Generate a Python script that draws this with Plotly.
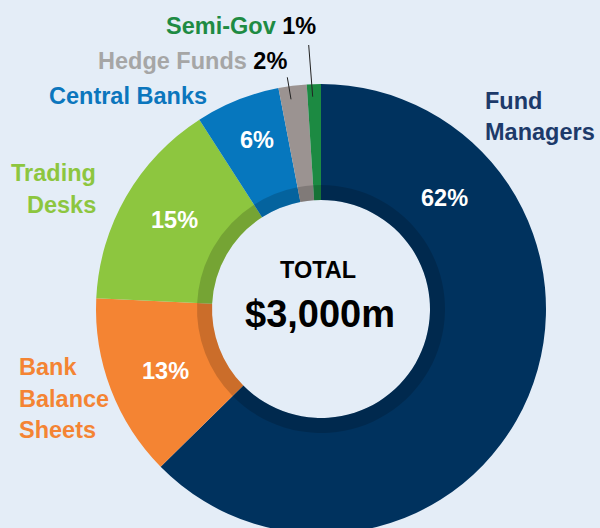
import plotly.graph_objects as go

# Investor breakdown, clockwise from 12 o'clock
labels   = ["Fund Managers", "Bank Balance Sheets", "Trading Desks",
            "Central Banks", "Hedge Funds", "Semi-Gov"]
shares   = [62, 13, 15, 6, 2, 1]
colors   = ["#00325E", "#F48433", "#8DC63F", "#0677BE", "#9B9391", "#1C8A42"]
txt_cols = ["#1D3A6A", "#F48433", "#8DC63F", "#0B76BD", "#A6A6A6", "#1E8B43"]
total_label = "TOTAL"
total_value = "$3,000m"

W, H = 600, 540            # a bit taller than the window; bottom of donut runs off
BG = "#E4EDF7"
FONT = "Liberation Sans, Arial, sans-serif"

CX, CY = 321, 309          # donut centre in px (from top-left)
R_OUT, R_RING, R_HOLE = 225, 124, 109


def dom(r):
    return dict(x=[(CX - r) / W, (CX + r) / W],
                y=[(H - CY - r) / H, (H - CY + r) / H])


def px(x, y):
    return x / W, 1 - y / H


fig = go.Figure()
fig.add_trace(go.Pie(
    labels=labels, values=shares, sort=False, direction="clockwise", rotation=0,
    hole=R_HOLE / R_OUT, domain=dom(R_OUT),
    marker=dict(colors=colors, line=dict(width=0)),
    textinfo="none", hoverinfo="label+percent", showlegend=False,
))
# darker inner ring
fig.add_trace(go.Pie(
    labels=labels, values=shares, sort=False, direction="clockwise", rotation=0,
    hole=R_HOLE / R_RING, domain=dom(R_RING),
    marker=dict(colors=["rgba(0,0,0,0.17)"] * len(shares), line=dict(width=0)),
    textinfo="none", hoverinfo="skip", showlegend=False,
))

ann = []


def add_text(text, x, y, size=23.5, color="black", xanchor="center"):
    ax, ay = px(x, y)
    ann.append(dict(text=text, x=ax, y=ay, xref="paper", yref="paper",
                    xanchor=xanchor, yanchor="middle", showarrow=False,
                    font=dict(family=FONT, size=size, color=color, weight="bold")))


# outside category labels (line by line)
fm, bbs, td, cb, hf, sg = range(6)
add_text("Fund", 483, 101, color=txt_cols[fm], xanchor="left")
add_text("Managers", 483, 132, color=txt_cols[fm], xanchor="left")
add_text("Trading", 98, 173, color=txt_cols[td], xanchor="right")
add_text("Desks", 98, 205, color=txt_cols[td], xanchor="right")
add_text("Bank", 17, 367, color=txt_cols[bbs], xanchor="left")
add_text("Balance", 17, 399, color=txt_cols[bbs], xanchor="left")
add_text("Sheets", 17, 430, color=txt_cols[bbs], xanchor="left")
add_text(labels[cb], 47, 96, color=txt_cols[cb], xanchor="left")
add_text(f"<span style='color:{txt_cols[hf]}'>{labels[hf]}</span> {shares[hf]}%",
         96, 61, xanchor="left")
add_text(f"<span style='color:{txt_cols[sg]}'>{labels[sg]}</span> {shares[sg]}%",
         164, 26, xanchor="left")

# percentages on the ring
add_text(f"{shares[fm]}%", 444, 198, color="white")
add_text(f"{shares[td]}%", 174, 220, color="white")
add_text(f"{shares[bbs]}%", 165, 371, color="white")
add_text(f"{shares[cb]}%", 257, 140, color="white")

# centre total
add_text(total_label, 318, 270)
add_text(total_value, 320, 314, size=38)

# leader lines for the thin slices
shapes = []
for (x0, y0, x1, y1) in [(308.7, 45, 312.7, 96.7), (287.3, 77.3, 291, 99.3)]:
    a0, b0 = px(x0, y0)
    a1, b1 = px(x1, y1)
    shapes.append(dict(type="line", xref="paper", yref="paper",
                       x0=a0, y0=b0, x1=a1, y1=b1,
                       line=dict(color="#222222", width=1)))

fig.update_layout(
    width=W, height=H,
    margin=dict(l=0, r=0, t=0, b=0),
    paper_bgcolor=BG, plot_bgcolor=BG,
    annotations=ann, shapes=shapes,
)

fig.write_html(
    "out.html",
    config={"displayModeBar": False},
    post_script=f"document.body.style.margin='0';document.body.style.overflow='hidden';"
                f"document.body.style.background='{BG}';",
)
